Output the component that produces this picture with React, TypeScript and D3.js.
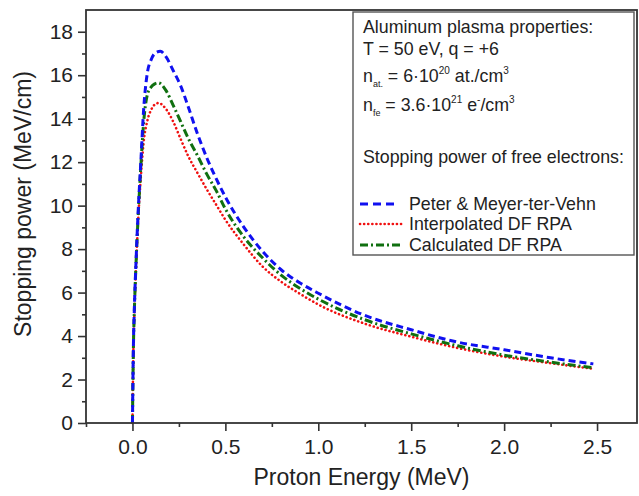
import React, { useEffect, useRef } from 'react';
import * as d3 from 'd3';

// proton energy (MeV) and stopping power (MeV/cm)
const energyPMV = [0, 0.005, 0.01, 0.02, 0.03, 0.045, 0.06, 0.08, 0.1, 0.12, 0.15, 0.18, 0.22, 0.26, 0.3, 0.35, 0.4, 0.45, 0.5, 0.6, 0.7, 0.8, 0.9, 1.0, 1.25, 1.5, 1.75, 2.0, 2.25, 2.48];
const peterMeyer = [0, 3.5, 5.2, 7.6, 9.6, 12.0, 14.4, 16.1, 16.7, 17.0, 17.1, 16.85, 16.2, 15.5, 14.55, 13.3, 12.2, 11.25, 10.4, 9.0, 7.9, 7.05, 6.45, 5.97, 4.95, 4.29, 3.72, 3.37, 3.0, 2.72];

const energyDF = [0, 0.005, 0.01, 0.02, 0.03, 0.045, 0.06, 0.08, 0.1, 0.12, 0.14, 0.18, 0.22, 0.26, 0.3, 0.35, 0.4, 0.45, 0.5, 0.6, 0.7, 0.8, 0.9, 1.0, 1.25, 1.5, 1.75, 2.0, 2.25, 2.48];
const interpolatedDF = [0, 3.4, 5.0, 7.3, 9.2, 11.3, 12.9, 13.9, 14.4, 14.65, 14.72, 14.45, 13.85, 13.05, 12.28, 11.5, 10.75, 10.05, 9.35, 8.2, 7.2, 6.5, 5.95, 5.45, 4.57, 3.97, 3.45, 3.05, 2.75, 2.49];
const calculatedDF = [0, 3.4, 5.1, 7.5, 9.4, 11.8, 13.8, 15.1, 15.45, 15.6, 15.65, 15.3, 14.6, 13.85, 13.1, 12.3, 11.45, 10.7, 9.85, 8.55, 7.6, 6.8, 6.2, 5.7, 4.75, 4.1, 3.55, 3.12, 2.8, 2.54];

const xMajorTicks = [0, 0.5, 1.0, 1.5, 2.0, 2.5];
const xMinorTicks = [-0.25, 0.25, 0.75, 1.25, 1.75, 2.25];
const yMajorTicks = [0, 2, 4, 6, 8, 10, 12, 14, 16, 18];
const yMinorTicks = [1, 3, 5, 7, 9, 11, 13, 15, 17];

const seriesNames = ['Peter & Meyer-ter-Vehn', 'Interpolated DF RPA', 'Calculated DF RPA'];

const FONT = '"Liberation Sans", Arial, sans-serif';

const App = () => {
  const ref = useRef<SVGSVGElement>(null);

  useEffect(() => {
    const W = 639, H = 496;
    const margin = { top: 10, right: 2, bottom: 73, left: 86 };

    const svg = d3.select(ref.current);
    svg.selectAll('*').remove();

    const x = d3.scaleLinear().domain([-0.25, 2.715]).range([margin.left, W - margin.right]);
    const y = d3.scaleLinear().domain([0, 19]).range([H - margin.bottom, margin.top]);

    const line = d3.line<[number, number]>()
      .x(d => x(d[0]))
      .y(d => y(d[1]))
      .curve(d3.curveMonotoneX);

    const styles = [
      { color: '#1010f0', width: 3, dash: '7,4', cap: 'butt' },
      { color: '#f01010', width: 2.6, dash: '0.1,4', cap: 'round' },
      { color: '#107010', width: 3, dash: '8,3,2,3', cap: 'butt' },
    ];

    const series: [number, number][][] = [
      energyPMV.map((e, i) => [e, peterMeyer[i]]),
      energyDF.map((e, i) => [e, interpolatedDF[i]]),
      energyDF.map((e, i) => [e, calculatedDF[i]]),
    ];

    // curves (red, green, then blue on top)
    [1, 2, 0].forEach(i => {
      svg.append('path')
        .datum(series[i])
        .attr('fill', 'none')
        .attr('stroke', styles[i].color)
        .attr('stroke-width', styles[i].width)
        .attr('stroke-dasharray', styles[i].dash)
        .attr('stroke-linecap', styles[i].cap)
        .attr('d', line);
    });

    // axes
    const bottom = H - margin.bottom;
    const xAxis = svg.append('g').attr('transform', `translate(0,${bottom})`)
      .call(d3.axisBottom(x).tickValues(xMajorTicks).tickSize(8).tickPadding(8).tickFormat(d3.format('.1f')));
    svg.append('g').attr('transform', `translate(0,${bottom})`)
      .call(d3.axisBottom(x).tickValues(xMinorTicks).tickSize(4).tickFormat(() => ''));
    const yAxis = svg.append('g').attr('transform', `translate(${margin.left},0)`)
      .call(d3.axisLeft(y).tickValues(yMajorTicks).tickSize(8).tickPadding(5));
    svg.append('g').attr('transform', `translate(${margin.left},0)`)
      .call(d3.axisLeft(y).tickValues(yMinorTicks).tickSize(4).tickFormat(() => ''));

    svg.selectAll('.domain').remove();
    svg.selectAll('.tick line').attr('stroke', '#333').attr('stroke-width', 1.6);
    [xAxis, yAxis].forEach(a => a.selectAll('text')
      .attr('font-family', FONT).attr('font-size', 21).attr('fill', '#222'));

    // frame
    svg.append('rect')
      .attr('x', margin.left).attr('y', margin.top)
      .attr('width', W - margin.right - margin.left)
      .attr('height', bottom - margin.top)
      .attr('fill', 'none').attr('stroke', '#333').attr('stroke-width', 1.8);

    // axis titles
    svg.append('text')
      .attr('x', (margin.left + W - margin.right) / 2).attr('y', 485)
      .attr('text-anchor', 'middle')
      .attr('font-family', FONT).attr('font-size', 23).attr('fill', '#222')
      .text('Proton Energy (MeV)');
    svg.append('text')
      .attr('transform', 'translate(31,204) rotate(-90)')
      .attr('text-anchor', 'middle')
      .attr('font-family', FONT).attr('font-size', 23).attr('fill', '#222')
      .text('Stopping power (MeV/cm)');

    // legend box
    const lg = svg.append('g').attr('font-family', FONT).attr('fill', '#222');
    lg.append('rect')
      .attr('x', 353).attr('y', 12).attr('width', 281).attr('height', 243)
      .attr('fill', 'white').attr('stroke', '#555').attr('stroke-width', 1.4);

    const fs = 17.8;
    const tx = 363;
    lg.append('text').attr('x', tx).attr('y', 33).attr('font-size', fs).text('Aluminum plasma properties:');
    lg.append('text').attr('x', tx).attr('y', 55).attr('font-size', fs).text('T = 50 eV, q = +6');

    const row3 = lg.append('text').attr('x', tx).attr('y', 82).attr('font-size', fs);
    row3.append('tspan').text('n');
    row3.append('tspan').attr('font-size', 9).attr('dy', 5).text('at.');
    row3.append('tspan').attr('dy', -5).text(' = 6·10');
    row3.append('tspan').attr('font-size', 10).attr('dy', -8).text('20');
    row3.append('tspan').attr('dy', 8).text(' at./cm');
    row3.append('tspan').attr('font-size', 10).attr('dy', -8).text('3');

    const row4 = lg.append('text').attr('x', tx).attr('y', 111).attr('font-size', fs);
    row4.append('tspan').text('n');
    row4.append('tspan').attr('font-size', 9).attr('dy', 5).text('fe');
    row4.append('tspan').attr('dy', -5).text(' = 3.6·10');
    row4.append('tspan').attr('font-size', 10).attr('dy', -8).text('21');
    row4.append('tspan').attr('dy', 8).text(' e');
    row4.append('tspan').attr('font-size', 10).attr('dy', -8).text('-');
    row4.append('tspan').attr('dy', 8).text('/cm');
    row4.append('tspan').attr('font-size', 10).attr('dy', -8).text('3');

    lg.append('text').attr('x', tx).attr('y', 163).attr('font-size', fs).text('Stopping power of free electrons:');

    const entryY = [204, 224, 245];
    const sampleEnd = [394, 403, 401];
    seriesNames.forEach((name, i) => {
      lg.append('line')
        .attr('x1', 360).attr('x2', sampleEnd[i])
        .attr('y1', entryY[i]).attr('y2', entryY[i])
        .attr('stroke', styles[i].color)
        .attr('stroke-width', styles[i].width)
        .attr('stroke-dasharray', i === 0 ? '8,5' : styles[i].dash)
        .attr('stroke-linecap', styles[i].cap);
      lg.append('text').attr('x', 409).attr('y', entryY[i] + 6).attr('font-size', fs).text(name);
    });
  }, []);

  return (
    <div style={{ position: 'absolute', left: 0, top: 0 }}>
      <svg ref={ref} width={639} height={496} style={{ display: 'block', background: 'white' }} />
    </div>
  );
};

export default App;
